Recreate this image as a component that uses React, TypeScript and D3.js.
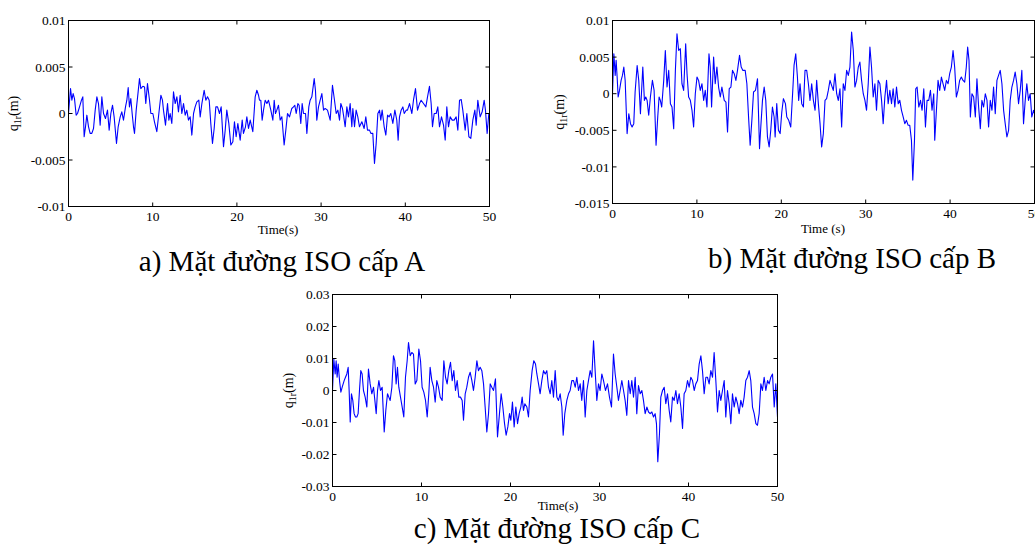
import React from 'react';
import * as d3 from 'd3';

// q1r: [time (s), value (mm)]
const roadA: [number, number][] = [
  [0, 0], [0.24, 2.68], [0.4, 1.43], [0.55, 2.14], [0.71, 1.61], [0.91, -0.18], [1.07, 0], [1.31, 0.71], [1.54, 1.43], [1.7, 1.79],
  [1.86, -2.5], [2.02, -1.43], [2.18, -0.18], [2.38, -1.43], [2.57, -2.14], [2.77, -2.14], [2.97, -1.61], [3.17, 0.36], [3.37, 1.79], [3.56, 1.07],
  [3.76, -1.25], [3.96, 1.79], [4.16, 0], [4.39, -0.54], [4.63, 0.36], [4.83, -1.79], [5.03, 0], [5.23, 0.89], [5.42, -0.36], [5.7, -3.21],
  [5.9, -1.43], [6.14, -0.36], [6.33, 0.18], [6.53, -0.71], [6.77, 0.71], [6.93, 1.43], [7.09, 2.79], [7.24, 0.71], [7.4, 1.61], [7.56, 0],
  [7.72, -1.43], [7.84, -2.14], [8.04, 0.36], [8.27, 2.32], [8.43, 3.75], [8.59, 2.68], [8.83, 2.93], [9.03, 2.86], [9.18, 1.07], [9.38, 3.21],
  [9.62, 1.43], [9.78, 0], [10.02, 0], [10.21, -0.89], [10.49, -1.96], [10.73, 0], [10.97, 1.96], [11.16, 1.43], [11.28, 0.36], [11.52, -1.25],
  [11.76, 1.07], [11.92, -0.71], [12.07, 0], [12.27, -1.07], [12.47, 2.32], [12.67, 1.07], [12.87, 1.79], [13.06, 0.18], [13.26, 1.96], [13.46, 0],
  [13.66, 1.07], [13.86, -0.18], [14.05, 0.36], [14.25, -0.71], [14.45, -0.36], [14.65, -2.32], [14.85, 0], [15.04, 0.71], [15.24, 1.25], [15.48, 1.43],
  [15.64, -0.36], [15.84, 1.07], [16.11, 2.5], [16.31, 1.43], [16.51, 1.79], [16.71, 1.43], [16.9, -1.07], [17.1, -3.21], [17.3, -1.61], [17.5, 0.71],
  [17.7, 0.71], [17.93, 0], [18.13, 0.71], [18.41, -3.57], [18.61, -1.79], [18.8, 0.36], [19.04, -1.07], [19.28, -3.39], [19.52, -3.04], [19.71, -0.89],
  [19.91, -2.5], [20.11, -1.07], [20.39, -2.86], [20.63, -0.71], [20.78, -2.14], [21.02, -1.43], [21.18, -0.36], [21.38, -1.61], [21.58, -0.71], [21.89, -1.96],
  [22.17, 1.79], [22.37, 2.5], [22.57, 1.96], [22.68, 1.43], [22.84, 1.43], [23.0, -0.71], [23.16, 0.36], [23.36, 1.43], [23.56, 1.07], [23.75, 1.43],
  [24.03, 0.36], [24.27, -0.71], [24.43, 1.43], [24.58, 0], [24.74, 0.36], [24.94, 0.89], [25.14, -0.71], [25.34, -0.36], [25.61, -3.39], [25.81, -1.79],
  [26.01, 0], [26.25, -0.36], [26.52, 0.54], [26.72, 0.71], [26.88, 0.89], [27.04, 0], [27.24, 1.07], [27.39, 0.89], [27.59, -1.07], [27.75, 1.07],
  [27.91, 0], [28.15, 0], [28.31, -2.14], [28.54, 0.71], [28.7, 1.43], [28.9, 1.79], [29.18, 3.75], [29.33, 2.5], [29.49, -0.71], [29.69, 0.71],
  [29.89, 1.43], [30.09, 2.14], [30.29, 0.36], [30.48, 0.54], [30.76, 0.36], [31.08, -0.71], [31.35, 3.04], [31.59, 1.43], [31.79, 0], [31.99, 0.36],
  [32.19, -0.71], [32.34, 1.07], [32.54, 0.54], [32.66, -0.18], [32.86, -1.43], [33.06, 0.71], [33.25, -0.36], [33.45, 1.07], [33.65, -1.43], [33.77, 0.54],
  [33.97, -1.43], [34.16, 0.36], [34.36, -0.36], [34.56, -1.43], [34.84, -0.89], [35.11, -1.61], [35.31, -0.36], [35.51, -1.79], [35.75, -1.79], [35.91, -2.14],
  [36.14, -2.14], [36.34, -5.36], [36.54, -3.21], [36.74, 0], [36.94, 0.36], [37.09, -0.71], [37.25, 0.36], [37.49, -1.43], [37.69, -2.32], [37.89, -0.18],
  [38.08, -0.36], [38.28, 0], [38.52, -1.07], [38.76, 0.36], [38.99, -0.71], [39.15, -2.86], [39.31, -0.36], [39.51, 0.36], [39.71, 0.71], [39.87, 0],
  [40.1, 0.36], [40.26, 0.36], [40.5, 1.07], [40.78, 0], [40.97, 1.43], [41.21, 2.68], [41.45, 0.36], [41.69, 1.07], [41.88, 1.43], [42.16, 1.07],
  [42.44, 0.71], [42.64, 1.79], [42.87, 2.93], [43.07, 1.07], [43.23, -1.43], [43.43, 0], [43.67, 0], [43.86, 0.71], [44.06, -1.43], [44.3, -0.36],
  [44.54, -1.25], [44.74, -2.86], [44.93, 0.71], [45.13, -1.43], [45.33, -0.36], [45.57, -0.71], [45.8, -0.71], [46.04, -0.36], [46.24, -1.79], [46.44, 1.43],
  [46.64, 1.5], [46.83, 0.36], [47.11, -1.79], [47.31, 0], [47.55, -2.5], [47.78, -2.68], [48.02, -0.71], [48.26, 0.36], [48.42, -1.25], [48.61, 1.43],
  [48.89, -0.36], [49.13, 0.18], [49.37, 1.43], [49.52, 0.36], [49.72, -2.14], [49.92, 0],
];

const roadB: [number, number][] = [
  [0, 0], [0.16, 5.45], [0.32, 2.5], [0.43, 4.55], [0.55, 2.27], [0.67, -0.45], [0.83, 0.45], [1.02, 1.82], [1.18, 2.5], [1.34, 3.64],
  [1.5, 1.82], [1.73, -5.45], [1.93, -2.73], [2.13, -4.09], [2.32, -4.55], [2.52, -4.09], [2.68, 0.23], [2.92, 3.86], [3.11, 1.82], [3.31, -2.73],
  [3.59, 3.64], [3.78, -0.91], [3.94, -0.45], [4.1, -0.91], [4.29, -2.95], [4.49, -0.45], [4.73, 1.82], [4.93, 0.45], [5.16, -7.05], [5.36, -3.18],
  [5.52, -0.45], [5.67, -0.91], [5.83, -1.82], [6.07, 1.82], [6.26, 5.91], [6.46, 0.91], [6.66, 3.18], [6.86, -1.36], [7.05, -1.82], [7.25, -4.77],
  [7.45, 3.18], [7.64, 8.18], [7.84, 5.91], [8.04, 6.14], [8.23, 1.36], [8.43, 0.45], [8.67, 6.82], [8.83, 2.73], [9.02, -0.45], [9.22, -0.91],
  [9.42, -2.27], [9.61, -4.55], [9.81, 0], [10.01, 2.27], [10.2, 1.82], [10.4, 0.45], [10.6, 1.36], [10.8, -0.91], [10.99, 0.45], [11.19, -1.82],
  [11.43, 5.45], [11.58, 3.64], [11.74, -1.82], [11.98, 5.0], [12.17, 1.36], [12.37, 3.64], [12.57, 0.91], [12.77, -0.45], [12.96, 0.91], [13.24, -0.91],
  [13.44, -1.14], [13.63, -5.23], [13.83, 0.68], [14.03, 0.91], [14.22, 3.18], [14.42, 2.73], [14.62, 1.82], [14.81, 3.18], [15.05, 5.23], [15.25, 3.64],
  [15.45, 3.18], [15.72, 3.18], [15.92, 1.36], [16.12, -3.18], [16.31, -7.05], [16.51, -3.64], [16.71, 0.23], [16.94, 0.45], [17.18, 2.05], [17.42, -7.5],
  [17.57, -4.55], [17.77, -0.91], [17.97, 0.91], [18.16, -0.91], [18.36, -5.91], [18.56, -7.27], [18.75, -5.0], [18.95, -1.82], [19.15, -3.18], [19.27, -5.91],
  [19.46, -1.36], [19.66, -5.0], [19.86, -5.45], [20.06, -2.5], [20.25, -0.68], [20.49, -1.36], [20.65, -3.18], [20.88, -3.64], [21.12, -4.55], [21.36, 0.45],
  [21.51, 3.86], [21.71, 5.45], [21.91, 2.27], [22.06, -0.91], [22.22, 1.36], [22.42, -1.36], [22.62, -1.82], [22.81, 3.18], [23.01, 3.18], [23.21, 1.36],
  [23.4, -0.91], [23.6, 1.36], [23.8, -0.91], [24.0, -2.27], [24.19, 1.82], [24.39, -1.36], [24.59, -4.09], [24.78, -7.27], [24.98, -5.45], [25.18, -0.91],
  [25.37, -0.68], [25.57, 0.45], [25.77, 1.82], [25.96, 1.14], [26.16, 0.45], [26.36, 2.73], [26.56, 0], [26.75, -0.91], [26.95, 0.68], [27.15, -4.55],
  [27.34, 1.36], [27.54, 0.45], [27.74, 3.18], [27.94, 2.5], [28.13, 3.64], [28.33, 8.41], [28.53, 5.91], [28.72, 0.91], [28.92, 1.82], [29.12, 3.64],
  [29.31, 4.32], [29.51, 1.82], [29.71, 0], [29.91, -0.91], [30.1, -2.27], [30.3, 1.36], [30.5, 6.36], [30.69, 3.64], [30.89, -0.45], [31.09, 1.36],
  [31.28, -2.27], [31.48, 1.82], [31.68, 1.36], [31.88, -0.91], [32.07, -4.09], [32.27, -0.45], [32.47, 1.82], [32.66, -1.36], [32.86, 0.45], [33.06, -1.36],
  [33.25, 0.68], [33.45, -1.82], [33.65, 0.91], [33.85, -1.36], [34.04, -0.91], [34.24, -2.27], [34.44, -3.18], [34.63, -4.09], [34.83, -3.64], [35.03, -4.32],
  [35.22, -4.32], [35.42, -6.36], [35.58, -11.8], [35.78, -6.36], [35.93, 0.68], [36.09, 0.91], [36.29, -1.82], [36.49, -0.91], [36.68, -2.27], [36.88, 0.68],
  [37.08, -4.55], [37.27, -0.91], [37.47, -0.91], [37.67, 0.45], [37.86, -2.27], [38.06, 0], [38.18, -6.36], [38.38, -2.27], [38.57, 1.82], [38.77, 0.45],
  [38.97, 2.27], [39.16, 1.36], [39.36, 0.45], [39.56, 1.82], [39.76, 1.36], [39.95, 2.73], [40.15, 3.64], [40.35, 5.91], [40.54, 3.64], [40.74, -0.45],
  [40.94, 0.45], [41.13, 1.82], [41.33, 2.27], [41.53, 1.82], [41.73, 1.59], [41.92, 3.64], [42.08, 6.36], [42.24, 4.55], [42.4, -3.18], [42.59, 0],
  [42.79, -0.45], [42.99, -3.18], [43.18, 2.05], [43.38, -1.82], [43.58, -4.77], [43.77, -0.91], [43.97, -1.82], [44.17, 0], [44.37, -0.91], [44.56, -4.55],
  [44.76, -0.91], [44.96, -2.27], [45.15, 0.91], [45.35, -2.73], [45.55, 1.82], [45.74, 2.5], [45.94, 3.18], [46.14, 1.36], [46.34, -2.27], [46.53, -4.09],
  [46.73, -5.91], [46.93, -5.0], [47.12, -0.91], [47.32, 0.91], [47.52, 1.82], [47.71, 2.95], [47.91, 1.36], [48.11, -1.36], [48.31, 0.45], [48.5, 3.18],
  [48.7, -4.09], [48.9, -0.91], [49.09, 1.36], [49.29, -0.91], [49.49, 0], [49.68, -3.18], [49.88, -2.27], [50.0, -2.73],
];

const roadC: [number, number][] = [
  [0, 0], [0.15, 9.82], [0.3, 5.17], [0.41, 9.31], [0.52, 4.14], [0.64, 8.27], [0.79, 3.1], [0.94, -0.52], [1.09, 1.03], [1.31, 3.1],
  [1.46, 4.14], [1.61, 5.17], [1.76, 7.24], [1.87, 0], [1.99, -9.82], [2.13, -1.03], [2.28, -3.1], [2.43, -7.24], [2.58, -8.27], [2.73, -8.27],
  [2.88, -7.24], [3.03, 0], [3.18, 6.2], [3.33, 5.17], [3.48, 0], [3.67, -2.07], [3.86, -5.17], [4.04, 6.72], [4.23, 2.07], [4.42, -1.03],
  [4.61, 1.03], [4.76, -3.1], [4.91, -7.24], [5.06, 0], [5.21, 3.1], [5.39, 0], [5.58, 1.03], [5.81, -12.93], [5.99, -6.2], [6.18, -1.03],
  [6.33, -2.07], [6.48, -3.1], [6.67, 1.03], [6.85, 10.86], [7.0, 9.31], [7.15, 2.07], [7.3, 7.24], [7.45, 1.03], [7.64, -2.07], [7.83, -5.17],
  [8.01, -8.27], [8.2, 4.14], [8.39, 9.31], [8.54, 15.0], [8.73, 10.86], [8.91, 11.89], [9.1, 11.38], [9.29, 2.07], [9.48, 3.1], [9.7, 12.93],
  [9.89, 9.31], [10.07, 1.03], [10.26, -0.52], [10.45, -3.1], [10.64, -8.27], [10.82, -1.03], [10.97, 7.24], [11.16, 3.1], [11.35, 1.03], [11.54, -3.62],
  [11.72, 3.1], [11.91, 1.03], [12.1, -2.07], [12.32, -3.1], [12.51, 9.31], [12.7, 4.14], [12.88, 2.07], [13.07, 6.2], [13.26, 8.79], [13.45, 3.1],
  [13.63, 6.2], [13.82, 0], [14.01, 3.1], [14.19, -2.07], [14.38, -2.07], [14.57, -3.1], [14.72, -9.31], [14.91, -1.03], [15.09, 1.03], [15.28, 4.14],
  [15.47, 5.69], [15.66, 3.1], [15.84, 0], [16.03, 4.14], [16.22, 9.31], [16.4, 6.2], [16.59, 7.24], [16.78, 6.2], [16.97, 2.07], [17.15, -5.17],
  [17.34, -12.93], [17.53, -7.24], [17.72, 2.07], [17.9, 1.03], [18.09, 0], [18.31, 3.62], [18.54, -14.48], [18.76, -7.24], [18.95, -1.03], [19.14, -5.17],
  [19.33, -10.34], [19.51, -13.96], [19.7, -11.38], [19.89, -7.24], [20.04, -9.31], [20.22, -3.62], [20.41, -11.38], [20.6, -5.17], [20.79, -10.34], [20.97, -7.24],
  [21.16, -5.17], [21.31, -2.07], [21.46, -6.2], [21.61, -4.14], [21.84, -5.17], [22.02, -8.27], [22.21, 0], [22.43, 6.2], [22.62, 9.31], [22.81, 8.27],
  [22.96, 5.17], [23.15, 2.07], [23.33, -1.03], [23.52, 3.1], [23.71, 6.2], [23.9, 5.17], [24.08, 6.2], [24.27, 1.03], [24.46, -1.03], [24.64, 3.1],
  [24.83, -2.07], [25.02, 6.2], [25.21, -2.07], [25.39, -3.1], [25.58, -1.03], [25.77, -5.17], [25.92, -13.96], [26.1, -7.24], [26.33, -3.1], [26.52, -1.03],
  [26.7, 0], [26.89, 3.1], [27.08, 3.1], [27.27, 1.03], [27.45, 4.14], [27.64, 0], [27.83, 2.07], [28.01, -3.1], [28.2, 3.1], [28.39, -8.27],
  [28.58, 0], [28.76, 3.1], [28.95, 6.2], [29.14, 4.14], [29.33, 15.51], [29.51, 6.2], [29.7, -3.1], [29.89, 2.07], [30.07, 0], [30.26, 5.17],
  [30.45, 3.1], [30.67, 0], [30.9, 2.07], [31.12, -2.07], [31.35, -5.17], [31.57, 11.38], [31.76, 5.17], [31.95, 1.03], [32.13, -3.1], [32.32, 0],
  [32.51, 3.1], [32.7, 0], [32.88, -3.1], [33.07, -7.76], [33.26, 3.1], [33.45, -1.03], [33.63, 3.1], [33.82, -2.07], [34.01, 4.14], [34.19, -7.24],
  [34.38, 1.55], [34.57, -1.03], [34.76, 0], [34.94, -3.1], [35.13, -7.24], [35.32, -5.17], [35.51, -6.72], [35.69, -7.24], [35.88, -6.72], [36.07, -8.27],
  [36.25, -7.24], [36.4, -10.34], [36.55, -22.23], [36.74, -13.44], [36.89, -2.07], [37.08, 0], [37.27, 1.03], [37.45, -4.14], [37.64, -1.03], [37.83, -6.2],
  [38.01, -9.82], [38.2, -2.07], [38.39, -3.1], [38.58, 0], [38.76, -4.14], [38.95, -1.03], [39.14, -5.17], [39.33, -11.89], [39.51, -1.03], [39.7, 0],
  [39.89, 3.1], [40.07, 1.03], [40.26, 4.14], [40.45, 3.1], [40.64, 0], [40.82, 2.07], [41.01, 3.1], [41.2, 8.27], [41.39, 10.86], [41.57, 6.2],
  [41.76, -1.03], [41.95, 4.14], [42.13, 4.14], [42.32, 2.07], [42.51, 6.2], [42.7, 4.14], [42.88, 11.89], [43.07, 3.1], [43.26, -6.72], [43.45, 0],
  [43.63, -3.1], [43.82, 0], [44.01, 3.1], [44.19, -8.27], [44.38, 0], [44.57, -4.14], [44.76, -10.34], [44.94, -1.03], [45.13, -5.17], [45.32, -2.07],
  [45.51, -4.14], [45.69, -7.24], [45.88, -3.1], [46.07, -5.17], [46.25, -2.07], [46.44, 3.1], [46.63, 4.14], [46.82, 6.2], [47.0, 3.1], [47.19, -5.17],
  [47.38, -7.24], [47.57, -10.34], [47.75, -10.86], [47.94, -7.24], [48.13, 2.07], [48.31, 0], [48.5, 4.14], [48.69, 0], [48.88, 3.1], [49.06, 2.07],
  [49.25, 4.14], [49.44, 5.17], [49.63, -5.17], [49.81, 2.07], [50.0, -8.27],
];

const xTicks = [0, 10, 20, 30, 40, 50];
const yTicksA = [-0.01, -0.005, 0, 0.005, 0.01];
const yTicksB = [-0.015, -0.01, -0.005, 0, 0.005, 0.01];
const yTicksC = [-0.03, -0.02, -0.01, 0, 0.01, 0.02, 0.03];

const xLabels = ['Time(s)', 'Time (s)', 'Time(s)'];
const captions = ['a) Mặt đường ISO cấp A', 'b) Mặt đường ISO cấp B', 'c) Mặt đường ISO cấp C'];

const FONT = '"Liberation Serif", "Times New Roman", serif';
const W = 1035;
const H = 545;

const panels = [
  {
    data: roadA, yTicks: yTicksA, xLabel: xLabels[0], caption: captions[0],
    frame: { left: 68.5, right: 489.5, top: 20.5, bottom: 206.5 },
    yLabelX: 18, xLabelAt: [278, 234], captionAt: [282, 271],
  },
  {
    data: roadB, yTicks: yTicksB, xLabel: xLabels[1], caption: captions[1],
    frame: { left: 612.5, right: 1034.5, top: 20.5, bottom: 203.5 },
    yLabelX: 564, xLabelAt: [823, 233], captionAt: [852, 268],
  },
  {
    data: roadC, yTicks: yTicksC, xLabel: xLabels[2], caption: captions[2],
    frame: { left: 332.5, right: 777.5, top: 294.5, bottom: 486.5 },
    yLabelX: 293, xLabelAt: [558, 510], captionAt: [557, 537.5],
  },
];

type PanelDef = (typeof panels)[number];

function Panel({ p }: { p: PanelDef }) {
  const { left, right, top, bottom } = p.frame;
  const x = d3.scaleLinear().domain([0, 50]).range([left, right]);
  const y = d3.scaleLinear().domain(d3.extent(p.yTicks) as [number, number]).range([bottom, top]);
  const line = d3.line<[number, number]>()
    .x(d => x(d[0]))
    .y(d => y(d[1] / 1000));
  const tk = 4;
  const yMid = (top + bottom) / 2;

  return (
    <g fontFamily={FONT} fill="#000">
      <path d={line(p.data) || ''} fill="none" stroke="#0000ff" strokeWidth={1.1} strokeLinejoin="round" />
      <rect x={left} y={top} width={right - left} height={bottom - top} fill="none" stroke="#000" strokeWidth={1} />
      {xTicks.map(t => (
        <g key={'x' + t}>
          <line x1={x(t)} x2={x(t)} y1={bottom} y2={bottom - tk} stroke="#000" />
          <line x1={x(t)} x2={x(t)} y1={top} y2={top + tk} stroke="#000" />
          <text x={x(t)} y={bottom + 14.5} fontSize={13.5} textAnchor="middle">{t}</text>
        </g>
      ))}
      {p.yTicks.map(v => (
        <g key={'y' + v}>
          <line x1={left} x2={left + tk} y1={y(v)} y2={y(v)} stroke="#000" />
          <line x1={right} x2={right - tk} y1={y(v)} y2={y(v)} stroke="#000" />
          <text x={left - 3} y={y(v)} dy="0.35em" fontSize={13.5} textAnchor="end">{String(v)}</text>
        </g>
      ))}
      <text transform={`translate(${p.yLabelX},${yMid}) rotate(-90)`} fontSize={14} textAnchor="middle">
        q<tspan fontSize={10} dy={3}>1r</tspan><tspan dy={-3}>(m)</tspan>
      </text>
      <text x={p.xLabelAt[0]} y={p.xLabelAt[1]} fontSize={13} textAnchor="middle">{p.xLabel}</text>
      <text x={p.captionAt[0]} y={p.captionAt[1]} fontSize={29} textAnchor="middle">{p.caption}</text>
    </g>
  );
}

export default function App() {
  return (
    <svg width={W} height={H} style={{ position: 'absolute', left: 0, top: 0, background: '#fff' }}>
      {panels.map((p, i) => <Panel key={i} p={p} />)}
    </svg>
  );
}
